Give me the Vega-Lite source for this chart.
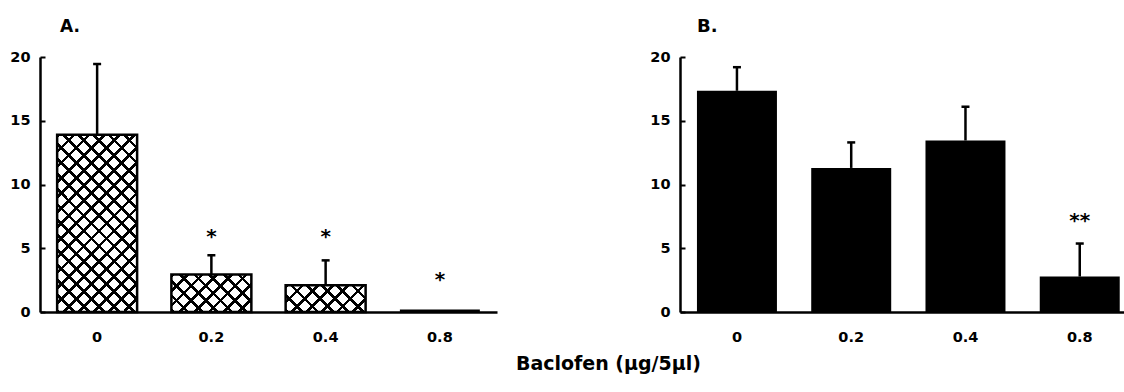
{
  "$schema": "https://vega.github.io/schema/vega-lite/v6.json",
  "background": "white",
  "padding": {"left": 9, "top": 18, "right": 0, "bottom": 6},
  "title": {"text": "Baclofen (μg/5μl)", "orient": "bottom", "anchor": "middle", "dx": 40, "offset": 11, "font": "DejaVu Sans", "fontSize": 19, "fontWeight": "bold", "color": "black"},
  "config": {
    "view": {"stroke": null},
    "font": "DejaVu Sans",
    "axis": {"grid": false, "domainColor": "black", "domainWidth": 2.5, "tickColor": "black", "labelColor": "black", "labelFont": "DejaVu Sans", "labelFontSize": 14.5, "labelFontWeight": "bold", "title": null},
    "axisX": {"ticks": false, "labelPadding": 18, "labelAngle": 0},
    "title": {"font": "DejaVu Sans", "fontWeight": "bold", "color": "black"}
  },
  "spacing": 152,
  "hconcat": [
    {
      "width": 457,
      "height": 255,
      "title": {"text": "A.", "anchor": "start", "frame": "group", "dx": 20, "fontSize": 17, "offset": 13},
      "data": {"values": [
        {"dose": "0", "mean": 13.9, "upper": 19.45, "star": "", "stary": 0},
        {"dose": "0.2", "mean": 2.95, "upper": 4.45, "star": "*", "stary": 6.3},
        {"dose": "0.4", "mean": 2.1, "upper": 4.05, "star": "*", "stary": 6.3},
        {"dose": "0.8", "mean": 0.2, "upper": null, "star": "*", "stary": 2.9}
      ]},
      "encoding": {
        "x": {"field": "dose", "type": "nominal", "sort": null, "scale": {"domain": ["0", "0.2", "0.4", "0.8"], "paddingInner": 0.3, "paddingOuter": 0.15}, "axis": {}}
      },
      "layer": [
        {
          "transform": [{"filter": "datum.dose == '0'"}],
          "mark": {"type": "bar", "fill": {"gradient": "linear", "x1": 0, "y1": 0, "x2": 0.5449, "y2": 1.2057, "stops": [
            {"offset": 0, "color": "black"}, {"offset": 0.014706, "color": "black"}, {"offset": 0.014706, "color": "white"}, {"offset": 0.058824, "color": "white"},
            {"offset": 0.058824, "color": "black"}, {"offset": 0.073529, "color": "black"}, {"offset": 0.073529, "color": "white"}, {"offset": 0.117647, "color": "white"},
            {"offset": 0.117647, "color": "black"}, {"offset": 0.132353, "color": "black"}, {"offset": 0.132353, "color": "white"}, {"offset": 0.176471, "color": "white"},
            {"offset": 0.176471, "color": "black"}, {"offset": 0.191176, "color": "black"}, {"offset": 0.191176, "color": "white"}, {"offset": 0.235294, "color": "white"},
            {"offset": 0.235294, "color": "black"}, {"offset": 0.25, "color": "black"}, {"offset": 0.25, "color": "white"}, {"offset": 0.294118, "color": "white"},
            {"offset": 0.294118, "color": "black"}, {"offset": 0.308824, "color": "black"}, {"offset": 0.308824, "color": "white"}, {"offset": 0.352941, "color": "white"},
            {"offset": 0.352941, "color": "black"}, {"offset": 0.367647, "color": "black"}, {"offset": 0.367647, "color": "white"}, {"offset": 0.411765, "color": "white"},
            {"offset": 0.411765, "color": "black"}, {"offset": 0.426471, "color": "black"}, {"offset": 0.426471, "color": "white"}, {"offset": 0.470588, "color": "white"},
            {"offset": 0.470588, "color": "black"}, {"offset": 0.485294, "color": "black"}, {"offset": 0.485294, "color": "white"}, {"offset": 0.529412, "color": "white"},
            {"offset": 0.529412, "color": "black"}, {"offset": 0.544118, "color": "black"}, {"offset": 0.544118, "color": "white"}, {"offset": 0.588235, "color": "white"},
            {"offset": 0.588235, "color": "black"}, {"offset": 0.602941, "color": "black"}, {"offset": 0.602941, "color": "white"}, {"offset": 0.647059, "color": "white"},
            {"offset": 0.647059, "color": "black"}, {"offset": 0.661765, "color": "black"}, {"offset": 0.661765, "color": "white"}, {"offset": 0.705882, "color": "white"},
            {"offset": 0.705882, "color": "black"}, {"offset": 0.720588, "color": "black"}, {"offset": 0.720588, "color": "white"}, {"offset": 0.764706, "color": "white"},
            {"offset": 0.764706, "color": "black"}, {"offset": 0.779412, "color": "black"}, {"offset": 0.779412, "color": "white"}, {"offset": 0.823529, "color": "white"},
            {"offset": 0.823529, "color": "black"}, {"offset": 0.838235, "color": "black"}, {"offset": 0.838235, "color": "white"}, {"offset": 0.882353, "color": "white"},
            {"offset": 0.882353, "color": "black"}, {"offset": 0.897059, "color": "black"}, {"offset": 0.897059, "color": "white"}, {"offset": 0.941176, "color": "white"},
            {"offset": 0.941176, "color": "black"}, {"offset": 0.955882, "color": "black"}, {"offset": 0.955882, "color": "white"}, {"offset": 1, "color": "white"}
          ]}},
          "encoding": {"y": {"field": "mean", "type": "quantitative", "scale": {"domain": [0, 20], "nice": false}, "axis": {"values": [0, 5, 10, 15, 20], "tickSize": -5, "tickWidth": 2, "labelPadding": 15}}}
        },
        {
          "transform": [{"filter": "datum.dose == '0'"}],
          "mark": {"type": "bar", "stroke": "black", "strokeWidth": 2.5, "fill": {"gradient": "linear", "x1": 0, "y1": 1, "x2": 0.5449, "y2": -0.2057, "stops": [
            {"offset": 0, "color": "black"}, {"offset": 0.014706, "color": "black"}, {"offset": 0.014706, "color": "rgba(255,255,255,0)"}, {"offset": 0.058824, "color": "rgba(255,255,255,0)"},
            {"offset": 0.058824, "color": "black"}, {"offset": 0.073529, "color": "black"}, {"offset": 0.073529, "color": "rgba(255,255,255,0)"}, {"offset": 0.117647, "color": "rgba(255,255,255,0)"},
            {"offset": 0.117647, "color": "black"}, {"offset": 0.132353, "color": "black"}, {"offset": 0.132353, "color": "rgba(255,255,255,0)"}, {"offset": 0.176471, "color": "rgba(255,255,255,0)"},
            {"offset": 0.176471, "color": "black"}, {"offset": 0.191176, "color": "black"}, {"offset": 0.191176, "color": "rgba(255,255,255,0)"}, {"offset": 0.235294, "color": "rgba(255,255,255,0)"},
            {"offset": 0.235294, "color": "black"}, {"offset": 0.25, "color": "black"}, {"offset": 0.25, "color": "rgba(255,255,255,0)"}, {"offset": 0.294118, "color": "rgba(255,255,255,0)"},
            {"offset": 0.294118, "color": "black"}, {"offset": 0.308824, "color": "black"}, {"offset": 0.308824, "color": "rgba(255,255,255,0)"}, {"offset": 0.352941, "color": "rgba(255,255,255,0)"},
            {"offset": 0.352941, "color": "black"}, {"offset": 0.367647, "color": "black"}, {"offset": 0.367647, "color": "rgba(255,255,255,0)"}, {"offset": 0.411765, "color": "rgba(255,255,255,0)"},
            {"offset": 0.411765, "color": "black"}, {"offset": 0.426471, "color": "black"}, {"offset": 0.426471, "color": "rgba(255,255,255,0)"}, {"offset": 0.470588, "color": "rgba(255,255,255,0)"},
            {"offset": 0.470588, "color": "black"}, {"offset": 0.485294, "color": "black"}, {"offset": 0.485294, "color": "rgba(255,255,255,0)"}, {"offset": 0.529412, "color": "rgba(255,255,255,0)"},
            {"offset": 0.529412, "color": "black"}, {"offset": 0.544118, "color": "black"}, {"offset": 0.544118, "color": "rgba(255,255,255,0)"}, {"offset": 0.588235, "color": "rgba(255,255,255,0)"},
            {"offset": 0.588235, "color": "black"}, {"offset": 0.602941, "color": "black"}, {"offset": 0.602941, "color": "rgba(255,255,255,0)"}, {"offset": 0.647059, "color": "rgba(255,255,255,0)"},
            {"offset": 0.647059, "color": "black"}, {"offset": 0.661765, "color": "black"}, {"offset": 0.661765, "color": "rgba(255,255,255,0)"}, {"offset": 0.705882, "color": "rgba(255,255,255,0)"},
            {"offset": 0.705882, "color": "black"}, {"offset": 0.720588, "color": "black"}, {"offset": 0.720588, "color": "rgba(255,255,255,0)"}, {"offset": 0.764706, "color": "rgba(255,255,255,0)"},
            {"offset": 0.764706, "color": "black"}, {"offset": 0.779412, "color": "black"}, {"offset": 0.779412, "color": "rgba(255,255,255,0)"}, {"offset": 0.823529, "color": "rgba(255,255,255,0)"},
            {"offset": 0.823529, "color": "black"}, {"offset": 0.838235, "color": "black"}, {"offset": 0.838235, "color": "rgba(255,255,255,0)"}, {"offset": 0.882353, "color": "rgba(255,255,255,0)"},
            {"offset": 0.882353, "color": "black"}, {"offset": 0.897059, "color": "black"}, {"offset": 0.897059, "color": "rgba(255,255,255,0)"}, {"offset": 0.941176, "color": "rgba(255,255,255,0)"},
            {"offset": 0.941176, "color": "black"}, {"offset": 0.955882, "color": "black"}, {"offset": 0.955882, "color": "rgba(255,255,255,0)"}, {"offset": 1, "color": "rgba(255,255,255,0)"}
          ]}},
          "encoding": {"y": {"field": "mean", "type": "quantitative"}}
        },
        {
          "transform": [{"filter": "datum.dose == '0.2'"}],
          "mark": {"type": "bar", "fill": {"gradient": "linear", "x1": 0, "y1": 0, "x2": 1.204, "y2": 0.5659, "stops": [
            {"offset": 0, "color": "black"}, {"offset": 0.03125, "color": "black"}, {"offset": 0.03125, "color": "white"}, {"offset": 0.125, "color": "white"},
            {"offset": 0.125, "color": "black"}, {"offset": 0.15625, "color": "black"}, {"offset": 0.15625, "color": "white"}, {"offset": 0.25, "color": "white"},
            {"offset": 0.25, "color": "black"}, {"offset": 0.28125, "color": "black"}, {"offset": 0.28125, "color": "white"}, {"offset": 0.375, "color": "white"},
            {"offset": 0.375, "color": "black"}, {"offset": 0.40625, "color": "black"}, {"offset": 0.40625, "color": "white"}, {"offset": 0.5, "color": "white"},
            {"offset": 0.5, "color": "black"}, {"offset": 0.53125, "color": "black"}, {"offset": 0.53125, "color": "white"}, {"offset": 0.625, "color": "white"},
            {"offset": 0.625, "color": "black"}, {"offset": 0.65625, "color": "black"}, {"offset": 0.65625, "color": "white"}, {"offset": 0.75, "color": "white"},
            {"offset": 0.75, "color": "black"}, {"offset": 0.78125, "color": "black"}, {"offset": 0.78125, "color": "white"}, {"offset": 0.875, "color": "white"},
            {"offset": 0.875, "color": "black"}, {"offset": 0.90625, "color": "black"}, {"offset": 0.90625, "color": "white"}, {"offset": 1, "color": "white"}
          ]}},
          "encoding": {"y": {"field": "mean", "type": "quantitative"}}
        },
        {
          "transform": [{"filter": "datum.dose == '0.2'"}],
          "mark": {"type": "bar", "stroke": "black", "strokeWidth": 2.5, "fill": {"gradient": "linear", "x1": 0, "y1": 1, "x2": 1.204, "y2": 0.4341, "stops": [
            {"offset": 0, "color": "black"}, {"offset": 0.03125, "color": "black"}, {"offset": 0.03125, "color": "rgba(255,255,255,0)"}, {"offset": 0.125, "color": "rgba(255,255,255,0)"},
            {"offset": 0.125, "color": "black"}, {"offset": 0.15625, "color": "black"}, {"offset": 0.15625, "color": "rgba(255,255,255,0)"}, {"offset": 0.25, "color": "rgba(255,255,255,0)"},
            {"offset": 0.25, "color": "black"}, {"offset": 0.28125, "color": "black"}, {"offset": 0.28125, "color": "rgba(255,255,255,0)"}, {"offset": 0.375, "color": "rgba(255,255,255,0)"},
            {"offset": 0.375, "color": "black"}, {"offset": 0.40625, "color": "black"}, {"offset": 0.40625, "color": "rgba(255,255,255,0)"}, {"offset": 0.5, "color": "rgba(255,255,255,0)"},
            {"offset": 0.5, "color": "black"}, {"offset": 0.53125, "color": "black"}, {"offset": 0.53125, "color": "rgba(255,255,255,0)"}, {"offset": 0.625, "color": "rgba(255,255,255,0)"},
            {"offset": 0.625, "color": "black"}, {"offset": 0.65625, "color": "black"}, {"offset": 0.65625, "color": "rgba(255,255,255,0)"}, {"offset": 0.75, "color": "rgba(255,255,255,0)"},
            {"offset": 0.75, "color": "black"}, {"offset": 0.78125, "color": "black"}, {"offset": 0.78125, "color": "rgba(255,255,255,0)"}, {"offset": 0.875, "color": "rgba(255,255,255,0)"},
            {"offset": 0.875, "color": "black"}, {"offset": 0.90625, "color": "black"}, {"offset": 0.90625, "color": "rgba(255,255,255,0)"}, {"offset": 1, "color": "rgba(255,255,255,0)"}
          ]}},
          "encoding": {"y": {"field": "mean", "type": "quantitative"}}
        },
        {
          "transform": [{"filter": "datum.dose == '0.4'"}],
          "mark": {"type": "bar", "fill": {"gradient": "linear", "x1": 0, "y1": 0, "x2": 1.2003, "y2": 0.4021, "stops": [
            {"offset": 0, "color": "black"}, {"offset": 0.035714, "color": "black"}, {"offset": 0.035714, "color": "white"}, {"offset": 0.142857, "color": "white"},
            {"offset": 0.142857, "color": "black"}, {"offset": 0.178571, "color": "black"}, {"offset": 0.178571, "color": "white"}, {"offset": 0.285714, "color": "white"},
            {"offset": 0.285714, "color": "black"}, {"offset": 0.321429, "color": "black"}, {"offset": 0.321429, "color": "white"}, {"offset": 0.428571, "color": "white"},
            {"offset": 0.428571, "color": "black"}, {"offset": 0.464286, "color": "black"}, {"offset": 0.464286, "color": "white"}, {"offset": 0.571429, "color": "white"},
            {"offset": 0.571429, "color": "black"}, {"offset": 0.607143, "color": "black"}, {"offset": 0.607143, "color": "white"}, {"offset": 0.714286, "color": "white"},
            {"offset": 0.714286, "color": "black"}, {"offset": 0.75, "color": "black"}, {"offset": 0.75, "color": "white"}, {"offset": 0.857143, "color": "white"},
            {"offset": 0.857143, "color": "black"}, {"offset": 0.892857, "color": "black"}, {"offset": 0.892857, "color": "white"}, {"offset": 1, "color": "white"}
          ]}},
          "encoding": {"y": {"field": "mean", "type": "quantitative"}}
        },
        {
          "transform": [{"filter": "datum.dose == '0.4'"}],
          "mark": {"type": "bar", "stroke": "black", "strokeWidth": 2.5, "fill": {"gradient": "linear", "x1": 0, "y1": 1, "x2": 1.2003, "y2": 0.5979, "stops": [
            {"offset": 0, "color": "black"}, {"offset": 0.035714, "color": "black"}, {"offset": 0.035714, "color": "rgba(255,255,255,0)"}, {"offset": 0.142857, "color": "rgba(255,255,255,0)"},
            {"offset": 0.142857, "color": "black"}, {"offset": 0.178571, "color": "black"}, {"offset": 0.178571, "color": "rgba(255,255,255,0)"}, {"offset": 0.285714, "color": "rgba(255,255,255,0)"},
            {"offset": 0.285714, "color": "black"}, {"offset": 0.321429, "color": "black"}, {"offset": 0.321429, "color": "rgba(255,255,255,0)"}, {"offset": 0.428571, "color": "rgba(255,255,255,0)"},
            {"offset": 0.428571, "color": "black"}, {"offset": 0.464286, "color": "black"}, {"offset": 0.464286, "color": "rgba(255,255,255,0)"}, {"offset": 0.571429, "color": "rgba(255,255,255,0)"},
            {"offset": 0.571429, "color": "black"}, {"offset": 0.607143, "color": "black"}, {"offset": 0.607143, "color": "rgba(255,255,255,0)"}, {"offset": 0.714286, "color": "rgba(255,255,255,0)"},
            {"offset": 0.714286, "color": "black"}, {"offset": 0.75, "color": "black"}, {"offset": 0.75, "color": "rgba(255,255,255,0)"}, {"offset": 0.857143, "color": "rgba(255,255,255,0)"},
            {"offset": 0.857143, "color": "black"}, {"offset": 0.892857, "color": "black"}, {"offset": 0.892857, "color": "rgba(255,255,255,0)"}, {"offset": 1, "color": "rgba(255,255,255,0)"}
          ]}},
          "encoding": {"y": {"field": "mean", "type": "quantitative"}}
        },
        {
          "transform": [{"filter": "datum.dose == '0.8'"}],
          "mark": {"type": "bar", "fill": "black"},
          "encoding": {"y": {"field": "mean", "type": "quantitative"}}
        },
        {
          "transform": [{"filter": "datum.upper != null"}],
          "mark": {"type": "rule", "color": "black", "strokeWidth": 2.5},
          "encoding": {"y": {"field": "mean", "type": "quantitative"}, "y2": {"field": "upper"}}
        },
        {
          "transform": [{"filter": "datum.upper != null"}],
          "mark": {"type": "tick", "color": "black", "size": 8, "thickness": 2.5, "opacity": 1},
          "encoding": {"y": {"field": "upper", "type": "quantitative"}}
        },
        {
          "transform": [{"filter": "datum.star != ''"}],
          "mark": {"type": "text", "color": "black", "font": "DejaVu Sans", "fontSize": 20, "fontWeight": "bold", "baseline": "middle", "dy": 5},
          "encoding": {"y": {"field": "stary", "type": "quantitative"}, "text": {"field": "star"}}
        }
      ]
    },
    {
      "width": 447,
      "height": 255,
      "title": {"text": "B.", "anchor": "start", "frame": "group", "dx": 17, "fontSize": 18, "offset": 13},
      "data": {"values": [
        {"dose": "0", "mean": 17.35, "upper": 19.2, "star": "", "stary": 0},
        {"dose": "0.2", "mean": 11.3, "upper": 13.3, "star": "", "stary": 0},
        {"dose": "0.4", "mean": 13.45, "upper": 16.1, "star": "", "stary": 0},
        {"dose": "0.8", "mean": 2.78, "upper": 5.37, "star": "**", "stary": 7.55}
      ]},
      "encoding": {
        "x": {"field": "dose", "type": "nominal", "sort": null, "scale": {"domain": ["0", "0.2", "0.4", "0.8"], "paddingInner": 0.3, "paddingOuter": 0.106, "align": 0.7}, "axis": {}}
      },
      "layer": [
        {
          "mark": {"type": "bar", "fill": "black"},
          "encoding": {"y": {"field": "mean", "type": "quantitative", "scale": {"domain": [0, 20], "nice": false}, "axis": {"values": [0, 5, 10, 15, 20], "tickSize": -5, "tickWidth": 2, "labelPadding": 15}}}
        },
        {
          "mark": {"type": "rule", "color": "black", "strokeWidth": 2.5},
          "encoding": {"y": {"field": "mean", "type": "quantitative"}, "y2": {"field": "upper"}}
        },
        {
          "mark": {"type": "tick", "color": "black", "size": 8, "thickness": 2.5, "opacity": 1},
          "encoding": {"y": {"field": "upper", "type": "quantitative"}}
        },
        {
          "transform": [{"filter": "datum.star != ''"}],
          "mark": {"type": "text", "color": "black", "font": "DejaVu Sans", "fontSize": 20, "fontWeight": "bold", "baseline": "middle", "dy": 5},
          "encoding": {"y": {"field": "stary", "type": "quantitative"}, "text": {"field": "star"}}
        }
      ]
    }
  ]
}
